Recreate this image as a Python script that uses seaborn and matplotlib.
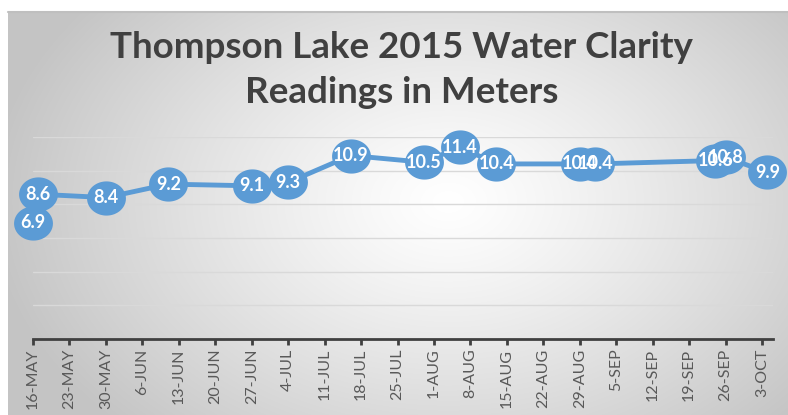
import numpy as np
import pandas as pd
import matplotlib
matplotlib.use("Agg")
import matplotlib.pyplot as plt
import matplotlib.dates as mdates
from matplotlib.path import Path
import seaborn as sns

dates = ["2015-05-16", "2015-05-17", "2015-05-30", "2015-06-11", "2015-06-27",
         "2015-07-04", "2015-07-16", "2015-07-30", "2015-08-06", "2015-08-13",
         "2015-08-29", "2015-09-01", "2015-09-24", "2015-09-26", "2015-10-04"]
clarity = [6.9, 8.6, 8.4, 9.2, 9.1, 9.3, 10.9, 10.5, 11.4, 10.4, 10.4, 10.4, 10.6, 10.8, 9.9]
tick_dates = pd.date_range("2015-05-16", "2015-10-03", freq="7D")

df = pd.DataFrame({"date": pd.to_datetime(dates), "clarity": clarity})

sns.set_style("white")
plt.rcParams["font.family"] = ["Lato", "DejaVu Sans"]

fig = plt.figure(figsize=(7.88, 4.15), dpi=100)

# radial gradient background of the chart area
bg = fig.add_axes([8 / 788, 0, 1 - 8 / 788, 1 - 12 / 415])
h, w = 403, 780
yy, xx = np.mgrid[0:h, 0:w]
cx, cy = 440, 190
r = np.sqrt(((xx - cx) / 460.0) ** 2 + ((yy - cy) / 320.0) ** 2)
t = np.clip(r, 0, 1) ** 1.2
lo, hi = np.array([1.0, 1.0, 1.0]), np.array([0.77, 0.77, 0.77])
img = lo[None, None, :] * (1 - t[..., None]) + hi[None, None, :] * t[..., None]
bg.imshow(img, aspect="auto", extent=[0, 1, 0, 1], origin="upper")
bg.axis("off")
bg.plot([0, 1], [1, 1], color="#bfbfbf", lw=1.5, transform=bg.transAxes, clip_on=False)

ax = fig.add_axes([33 / 788, 1 - 339 / 415, (773 - 33) / 788, (339 - 137) / 415])
ax.patch.set_alpha(0)

theta = np.linspace(0, 2 * np.pi, 60)
ellipse = Path(np.column_stack([np.cos(theta), 0.88 * np.sin(theta)]), closed=True)

sns.lineplot(data=df, x="date", y="clarity", ax=ax, color="#5b9bd5", lw=3.5,
             marker=ellipse, markersize=28, markeredgewidth=0, zorder=3,
             clip_on=False)

for d, v in zip(df["date"], df["clarity"]):
    ax.text(d, v, f"{v:.1f}", ha="center", va="center", color="white",
            fontsize=13, fontweight="bold", zorder=5)

ax.set_ylim(0, 12)
ax.set_yticks(np.arange(2, 13, 2))
ax.yaxis.grid(True, color="#d9d9d9", lw=1)
ax.tick_params(axis="y", left=False, labelleft=False)

start = mdates.date2num(pd.Timestamp("2015-05-16"))
ax.set_xlim(start, start + 142.1)
ax.set_xticks(tick_dates)
ax.set_xticklabels([d.strftime("%-d-%b").upper() for d in tick_dates], rotation=90,
                   fontsize=11.5, color="#595959")
ax.tick_params(axis="x", bottom=True, direction="out", length=4, width=2,
               color="#404040", pad=3)
for s in ["left", "right", "top"]:
    ax.spines[s].set_visible(False)
ax.spines["bottom"].set_color("#404040")
ax.spines["bottom"].set_linewidth(2)
ax.set_xlabel("")
ax.set_ylabel("")

fig.text(0.51, 0.832, "Thompson Lake 2015 Water Clarity\nReadings in Meters",
         ha="center", va="center", fontsize=26.5, fontweight="bold", color="#404040",
         linespacing=1.45)

fig.savefig("out.png", dpi=100)
